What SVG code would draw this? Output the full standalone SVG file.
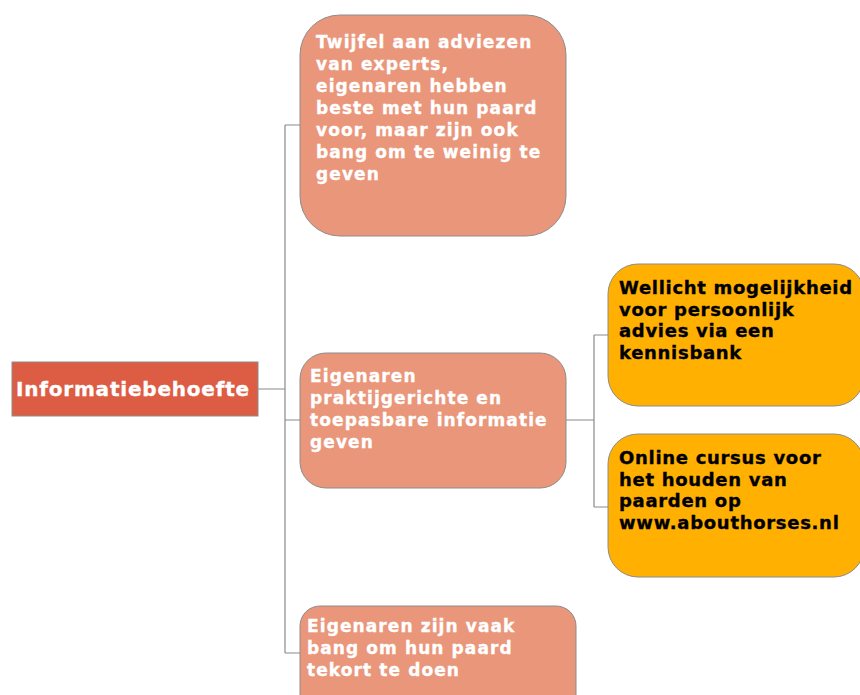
<svg xmlns="http://www.w3.org/2000/svg" width="860" height="695" viewBox="0 0 860 695">
<style>
.conn{fill:none;stroke:#8a8a8a;stroke-width:1.2}
.box{stroke:#8c8c8c;stroke-width:1}
.salmon{fill:#E9967A}
.orange{fill:#FFB000}
.root{fill:#DD5C44}
text{font-family:"DejaVu Sans","Verdana",sans-serif;font-weight:bold;font-size:17px;letter-spacing:1.1px;stroke-width:0.35px}
.w{fill:#ffffff;stroke:#ffffff}
.k{fill:#000000;stroke:#000000;font-size:18px;letter-spacing:0.7px}
</style>
<rect width="860" height="695" fill="#ffffff"/>
<g id="connectors">
<path class="conn" d="M258,389 H285 M285,125 V653 M285,125 H300 M285,420 H300 M285,653 H300"/>
<path class="conn" d="M566,420 H594 M594,335 V507 M594,335 H608 M594,507 H608"/>
</g>
<g id="root">
<rect class="box root" x="12" y="362" width="246" height="54"/>
<text class="w" x="16" y="396" style="font-size:20px;letter-spacing:0.8px">Informatiebehoefte</text>
</g>
<g id="n1">
<rect class="box salmon" x="300" y="15" width="266" height="221" rx="40"/>
<text class="w" x="316"><tspan x="316" y="48">Twijfel aan adviezen</tspan><tspan x="316" y="70">van experts,</tspan><tspan x="316" y="92">eigenaren hebben</tspan><tspan x="316" y="114">beste met hun paard</tspan><tspan x="316" y="136">voor, maar zijn ook</tspan><tspan x="316" y="158">bang om te weinig te</tspan><tspan x="316" y="180">geven</tspan></text>
</g>
<g id="n2">
<rect class="box salmon" x="300" y="353" width="266" height="135" rx="26"/>
<text class="w"><tspan x="310" y="382">Eigenaren</tspan><tspan x="310" y="404">praktijgerichte en</tspan><tspan x="310" y="426">toepasbare informatie</tspan><tspan x="310" y="448">geven</tspan></text>
</g>
<g id="n3">
<rect class="box salmon" x="300" y="606" width="276" height="110" rx="20"/>
<text class="w"><tspan x="307" y="632">Eigenaren zijn vaak</tspan><tspan x="307" y="654">bang om hun paard</tspan><tspan x="307" y="676">tekort te doen</tspan></text>
</g>
<g id="n4">
<rect class="box orange" x="608" y="264" width="256" height="142" rx="30"/>
<text class="k"><tspan x="619" y="294">Wellicht mogelijkheid</tspan><tspan x="619" y="316">voor persoonlijk</tspan><tspan x="619" y="337">advies via een</tspan><tspan x="619" y="359">kennisbank</tspan></text>
</g>
<g id="n5">
<rect class="box orange" x="608" y="434" width="256" height="143" rx="30"/>
<text class="k"><tspan x="619" y="464">Online cursus voor</tspan><tspan x="619" y="486">het houden van</tspan><tspan x="619" y="507">paarden op</tspan><tspan x="619" y="529">www.abouthorses.nl</tspan></text>
</g>
</svg>
